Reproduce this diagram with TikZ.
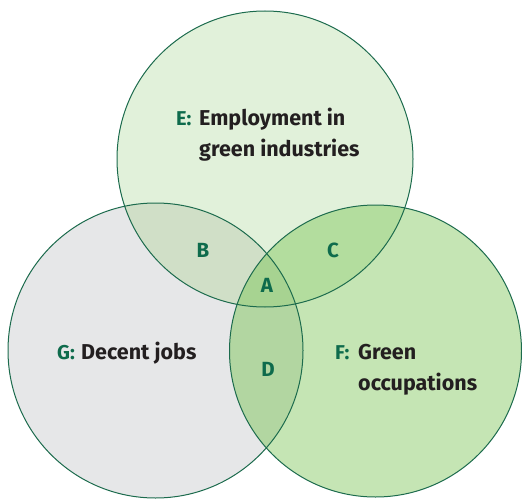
\documentclass[tikz,border=0pt]{standalone}
\usepackage{fontspec}
\setmainfont{Fira Sans}
\definecolor{edge}{HTML}{1C6B4D}
\definecolor{lab}{HTML}{0E6B4C}
\definecolor{txt}{HTML}{231F20}
\definecolor{fillE}{HTML}{E1F1DA}
\definecolor{fillG}{HTML}{E6E7E8}
\definecolor{fillF}{HTML}{C5E5B4}
\definecolor{fillB}{HTML}{D0DFC7}
\definecolor{fillC}{HTML}{B3DD9E}
\definecolor{fillD}{HTML}{B2D6A1}
\definecolor{fillA}{HTML}{A7D391}
\tikzset{
  letter/.style={font=\fontsize{20.5}{24}\selectfont\bfseries, text=lab, inner sep=0pt},
  key/.style={font=\fontsize{20}{24}\selectfont\bfseries, text=lab, inner sep=0pt, anchor=base west},
  body/.style={font=\fontsize{21.5}{24}\selectfont\bfseries, text=txt, inner sep=0pt, anchor=base west},
  ring/.style={draw=edge, line width=1pt}
}
\begin{document}
\begin{tikzpicture}[x=1pt,y=-1pt]
\useasboundingbox (0,0) rectangle (522,500);
\def\cE{(265,159) circle[radius=148pt]}
\def\cG{(155.5,350.5) circle[radius=147.5pt]}
\def\cF{(375.5,351) circle[radius=146pt]}
\fill[fillE] \cE;
\fill[fillG] \cG;
\fill[fillF] \cF;
\begin{scope}\clip \cE; \fill[fillB] \cG; \fill[fillC] \cF; \end{scope}
\begin{scope}\clip \cG; \fill[fillD] \cF; \end{scope}
\begin{scope}\clip \cE; \clip \cG; \fill[fillA] \cF; \end{scope}
\draw[ring] \cE;
\draw[ring] \cG;
\draw[ring] \cF;
\node[key] (eK) at (176,126) {E:};
\node[body] (eT1) at (199,126) {Employment in};
\node[body] (eT2) at (199,157) {green industries};
\node[key] (gK) at (57,359) {G:};
\node[body] (gT) at (81,359) {Decent jobs};
\node[key] (fK) at (335,359) {F:};
\node[body] (fT1) at (358,359) {Green};
\node[body] (fT2) at (358,390) {occupations};
\node[letter] (B) at (203,250) {B};
\node[letter] (C) at (333,250) {C};
\node[letter] (A) at (267,285) {A};
\node[letter] (D) at (268,369) {D};
\end{tikzpicture}
\end{document}
